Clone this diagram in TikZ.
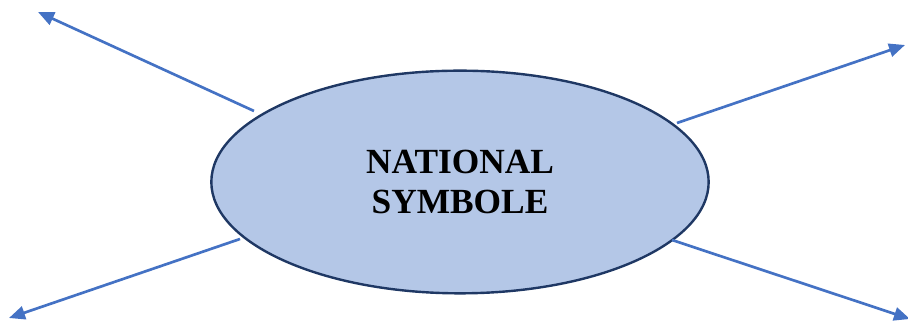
\documentclass[tikz,border=0pt]{standalone}
\usepackage{fontspec}
\setmainfont{Liberation Serif}
\usetikzlibrary{arrows.meta,shapes.geometric}
\definecolor{symfill}{HTML}{B4C7E7}
\definecolor{symline}{HTML}{1F3864}
\definecolor{arrowblue}{HTML}{4472C4}
\tikzset{
  symbole/.style={ellipse,draw=symline,fill=symfill,line width=1.8pt,
    minimum width=373pt,minimum height=167pt,inner sep=0pt,
    font=\fontsize{26.5}{29.5}\selectfont\bfseries,align=center},
  spoke/.style={draw=arrowblue,line width=2pt,
    -{Triangle[length=12pt,width=10pt]}}
}
\begin{document}
\begin{tikzpicture}[x=0.75pt,y=-0.75pt]
  \useasboundingbox (0,0) rectangle (908,323);
  % central ellipse
  \node[symbole] (sym) at (460,182) {NATIONAL\\SYMBOLE};
  % start and end points of the arrows
  \coordinate (tls) at (254,111);
  \coordinate (tle) at (38,12);
  \coordinate (trs) at (677,123);
  \coordinate (tre) at (905,45);
  \coordinate (bls) at (240,239);
  \coordinate (ble) at (9,318);
  \coordinate (brs) at (672,240);
  \coordinate (bre) at (910,319);
  % arrows
  \draw[spoke] (tls) -- (tle);
  \draw[spoke] (trs) -- (tre);
  \draw[spoke] (bls) -- (ble);
  \draw[spoke] (brs) -- (bre);
\end{tikzpicture}
\end{document}
